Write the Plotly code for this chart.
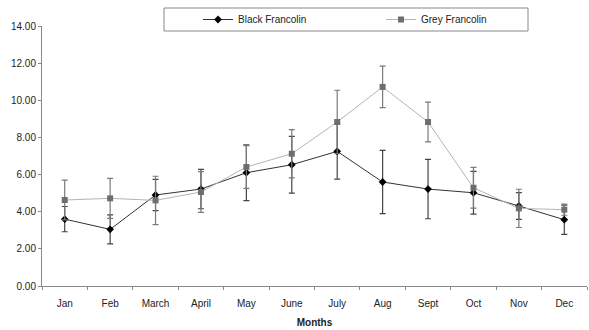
import plotly.graph_objects as go

months = ["Jan", "Feb", "March", "April", "May", "June", "July", "Aug", "Sept", "Oct", "Nov", "Dec"]
black_mean = [3.60, 3.05, 4.90, 5.22, 6.10, 6.53, 7.25, 5.60, 5.22, 5.02, 4.31, 3.57]
black_err = [0.68, 0.78, 0.84, 1.06, 1.50, 1.53, 1.49, 1.70, 1.60, 1.15, 0.72, 0.79]
grey_mean = [4.63, 4.72, 4.61, 5.06, 6.41, 7.12, 8.83, 10.72, 8.83, 5.29, 4.18, 4.11]
grey_err = [1.07, 1.08, 1.30, 1.10, 1.15, 1.30, 1.71, 1.12, 1.07, 1.10, 1.03, 0.30]

FONT = "Liberation Sans, Arial, sans-serif"

fig = go.Figure()
fig.add_trace(go.Scatter(
    x=months, y=black_mean, name="Black Francolin", mode="lines+markers",
    line=dict(color="#333333", width=1),
    marker=dict(symbol="diamond", size=6, color="#000000"),
    error_y=dict(type="data", array=black_err, visible=True, color="#444444", thickness=1.2, width=3),
))
fig.add_trace(go.Scatter(
    x=months, y=grey_mean, name="Grey Francolin", mode="lines+markers",
    line=dict(color="#b5b5b5", width=1),
    marker=dict(symbol="square", size=6, color="#6e6e6e"),
    error_y=dict(type="data", array=grey_err, visible=True, color="#7a7a7a", thickness=1.2, width=3),
))

L, R, T, B = 42, 2, 26, 44
W, H = 589, 330
pw = W - L - R
ph = H - T - B

def px(xp):
    return (xp - L) / pw

def py(yp):
    return 1 + (T - yp) / ph

fig.add_shape(type="rect", xref="paper", yref="paper",
              x0=px(164), x1=px(528), y0=py(31), y1=py(8),
              line=dict(color="#888888", width=1), fillcolor="rgba(0,0,0,0)")

fig.update_layout(
    width=W, height=H,
    margin=dict(l=L, r=R, t=T, b=B, autoexpand=False),
    paper_bgcolor="white", plot_bgcolor="white",
    font=dict(family=FONT, size=10, color="#222222"),
    showlegend=True,
    legend=dict(orientation="h", x=px(198), y=py(19.5),
                xanchor="left", yanchor="middle",
                entrywidth=138, entrywidthmode="pixels",
                bgcolor="rgba(0,0,0,0)", borderwidth=0,
                font=dict(family=FONT, size=10, color="#222222")),
    xaxis=dict(type="category", range=[-0.5, 11.5], tickson="boundaries",
               ticks="outside", ticklen=3, tickcolor="#888888", automargin=False,
               ticklabelstandoff=8,
               showline=True, linecolor="#888888", linewidth=1,
               showgrid=False, zeroline=False,
               title=dict(text="<b>Months</b>", font=dict(family=FONT, size=10, color="#222222"), standoff=10),
               tickfont=dict(family=FONT, size=10, color="#222222")),
    yaxis=dict(range=[0, 14], dtick=2, tickformat=".2f", automargin=False,
               ticks="outside", ticklen=3, tickcolor="#888888",
               showline=True, linecolor="#888888", linewidth=1,
               showgrid=False, zeroline=False,
               tickfont=dict(family=FONT, size=10, color="#222222")),
)

fig.write_html("out.html", config={"displayModeBar": False},
               post_script="document.body.style.margin='0';")
